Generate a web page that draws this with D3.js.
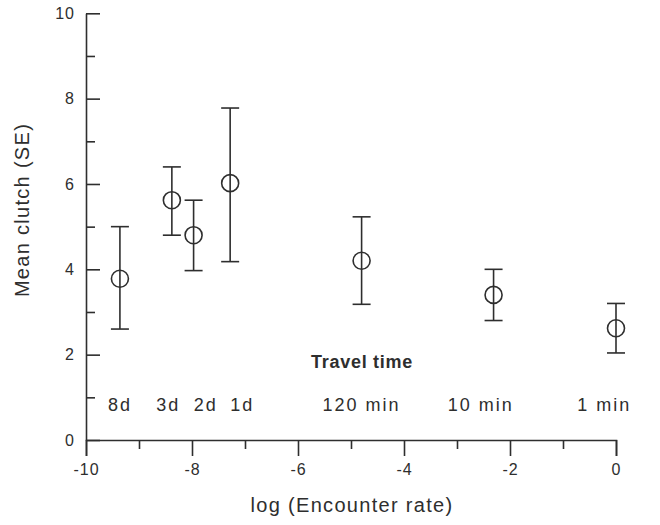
<!DOCTYPE html>
<html>
<head>
<meta charset="utf-8">
<script src="https://cdn.jsdelivr.net/npm/d3@7"></script>
<style>
  html, body { margin: 0; padding: 0; background: #fff; }
  svg { display: block; font-family: "Liberation Sans", Arial, Helvetica, sans-serif; }
</style>
</head>
<body>
<svg id="chart" width="660" height="525"></svg>
<script>
// ---- data ----
const logRate   = [-9.36, -8.38, -7.97, -7.28, -4.8, -2.31, 0];
const meanClutch = [3.78, 5.62, 4.80, 6.02, 4.20, 3.40, 2.62];
const seUpper   = [5.0, 6.4, 5.62, 7.78, 5.23, 4.0, 3.2];
const seLower   = [2.6, 4.8, 3.97, 4.18, 3.18, 2.8, 2.04];
const travelText = ["8d", "3d", "2d", "1d", "120 min", "10 min", "1 min"];
const travelAt   = [-9.36, -8.45, -7.74, -7.05, -4.8, -2.55, -0.22];
const xTicks = [-10, -8, -6, -4, -2, 0];
const xMinor = [-9, -7, -5, -3, -1];
const yTicks = [0, 2, 4, 6, 8, 10];
const yMinor = [1, 3, 5, 7, 9];

const ink = "#2e2e2e";
const svg = d3.select("#chart");
const x = d3.scaleLinear().domain([-10, 0]).range([86, 616]);
const y = d3.scaleLinear().domain([0, 10]).range([440, 13.3]);
const fmt = d => String(d);

// Y axis (ticks pointing inward)
svg.append("g").attr("transform", `translate(${x(-10)},0)`)
  .call(d3.axisLeft(y).tickValues(yTicks).tickSizeInner(-14).tickSizeOuter(0).tickPadding(11).tickFormat(fmt));
svg.append("g").attr("transform", `translate(${x(-10)},0)`)
  .call(d3.axisLeft(y).tickValues(yMinor).tickSizeInner(-9).tickSizeOuter(0).tickFormat(""))
  .select(".domain").remove();

// X axis (ticks pointing down)
svg.append("g").attr("transform", `translate(0,${y(0)})`)
  .call(d3.axisBottom(x).tickValues(xTicks).tickSize(16).tickPadding(8).tickFormat(fmt));
svg.append("g").attr("transform", `translate(0,${y(0)})`)
  .call(d3.axisBottom(x).tickValues(xMinor).tickSize(9).tickFormat(""))
  .select(".domain").remove();

svg.selectAll(".domain, .tick line").attr("stroke", ink).attr("stroke-width", 1.6);
svg.selectAll(".tick text").attr("fill", ink).style("font-size", "16px").style("letter-spacing", "1px")
  .style("font-family", "'Liberation Sans', Arial, sans-serif");

// Error bars
const pts = logRate.map((v, i) => ({x: v, m: meanClutch[i], hi: seUpper[i], lo: seLower[i]}));
const cap = 9;
const g = svg.append("g").attr("stroke", ink).attr("stroke-width", 1.6).attr("fill", "none");
pts.forEach(p => {
  g.append("line").attr("x1", x(p.x)).attr("x2", x(p.x)).attr("y1", y(p.hi)).attr("y2", y(p.lo));
  g.append("line").attr("x1", x(p.x) - cap).attr("x2", x(p.x) + cap).attr("y1", y(p.hi)).attr("y2", y(p.hi));
  g.append("line").attr("x1", x(p.x) - cap).attr("x2", x(p.x) + cap).attr("y1", y(p.lo)).attr("y2", y(p.lo));
  g.append("circle").attr("cx", x(p.x)).attr("cy", y(p.m)).attr("r", 8.5).attr("fill", "none");
});

// Travel time labels
svg.append("text").attr("x", 362).attr("y", 368).attr("text-anchor", "middle")
  .attr("fill", ink).style("font-size", "18px").style("font-weight", "bold").style("letter-spacing", "0.7px")
  .text("Travel time");
svg.append("g").selectAll("text").data(travelText).join("text")
  .attr("x", (d, i) => x(travelAt[i])).attr("y", 411).attr("text-anchor", "middle")
  .attr("fill", ink).style("font-size", "18px").style("letter-spacing", "2px")
  .text(d => d);

// Axis titles
svg.append("text").attr("x", 352).attr("y", 512).attr("text-anchor", "middle")
  .attr("fill", ink).style("font-size", "20px").style("letter-spacing", "1.3px")
  .text("log (Encounter rate)");
svg.append("text").attr("transform", "translate(29,210) rotate(-90)").attr("text-anchor", "middle")
  .attr("fill", ink).style("font-size", "20px").style("letter-spacing", "1.3px")
  .text("Mean clutch (SE)");
</script>
</body>
</html>
